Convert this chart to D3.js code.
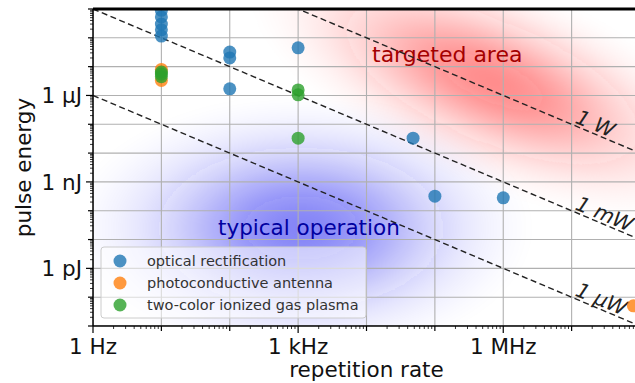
<!DOCTYPE html>
<html>
<head>
<meta charset="utf-8">
<script src="https://cdn.jsdelivr.net/npm/d3@7"></script>
<style>
  body { margin: 0; background: #fff; }
  svg text { font-family: "DejaVu Sans", sans-serif; }
</style>
</head>
<body>
<div id="chart-container"></div>
<script>
// data (frequency in Hz, energy in J)

const seriesNames = ["optical rectification", "photoconductive antenna", "two-color ionized gas plasma"];
const seriesColors = ["#1f77b4", "#ff7f0e", "#2ca02c"];

const opticalFreq = [10, 10, 10, 10, 10, 100, 100, 100, 1000, 4.8e4, 1e5, 1e6];
const opticalEnergy = [9e-4, 5.3e-4, 3e-4, 1.9e-4, 1.15e-4, 3.2e-5, 2e-5, 1.7e-6, 4.5e-5, 3.3e-8, 3.2e-10, 2.8e-10];

const antennaFreq = [10, 10, 8e7];
const antennaEnergy = [8e-6, 3.3e-6, 5e-14];

const plasmaFreq = [10, 10, 10, 1000, 1000, 1000];
const plasmaEnergy = [6.5e-6, 5.5e-6, 4.5e-6, 1.55e-6, 1.05e-6, 3.3e-8];

const powers = [1, 1e-3, 1e-6];
const powerLabels = ["1 W", "1 mW", "1 μW"];

const xTickValues = [1, 1e3, 1e6];
const xTickLabels = ["1 Hz", "1 kHz", "1 MHz"];
const yTickValues = [1e-6, 1e-9, 1e-12];
const yTickLabels = ["1 μJ", "1 nJ", "1 pJ"];

// shaded regions: centre (Hz, J) and half-widths in decades
const regionNames = ["targeted area", "typical operation"];
const regionCenterFreq = [7e5, 1.1e3];
const regionCenterEnergy = [3e-6, 2.5e-11];
const regionSpreadX = [3.8, 3.4];
const regionSpreadY = [3.5, 4.6];

// set the dimensions and margins

const W = 635, H = 383;
const margin = { top: 9, right: -5, bottom: 57, left: 93 };
const width = W - margin.left - margin.right;
const height = H - margin.top - margin.bottom;

const x = d3.scaleLog().domain([1, 1e8]).range([0, width]);
const y = d3.scaleLog().domain([1e-14, 1e-3]).range([height, 0]);

const svg = d3.select("#chart-container")
  .append("svg")
    .attr("width", W)
    .attr("height", H);

const defs = svg.append("defs");
defs.append("clipPath").attr("id", "plot-clip")
  .append("rect").attr("width", width).attr("height", height);

// gaussian-like fall-off
const gradColors = ["255,30,30", "30,30,240"];
const gradPeak = [0.52, 0.55];
gradColors.forEach((c, i) => {
  const g = defs.append("radialGradient").attr("id", "blob" + i);
  d3.range(0, 1.0001, 0.1).forEach(o => {
    const a = (Math.exp(-3.2 * o * o) - Math.exp(-3.2)) / (1 - Math.exp(-3.2));
    g.append("stop").attr("offset", o)
      .attr("stop-color", `rgba(${c},${(a * gradPeak[i]).toFixed(3)})`);
  });
});
defs.append("filter").attr("id", "soft")
  .attr("x", "-20%").attr("y", "-20%").attr("width", "140%").attr("height", "140%")
  .append("feGaussianBlur").attr("stdDeviation", 4);

const g = svg.append("g")
  .attr("transform", `translate(${margin.left},${margin.top})`);

const plot = g.append("g").attr("clip-path", "url(#plot-clip)");

// slope of a constant power line, in screen degrees
const decX = x(10) - x(1);
const decY = y(1e-6) - y(1e-5);
const angle = Math.atan2(decY, decX) * 180 / Math.PI;

// shaded regions
const blobAngle = [angle, 0];
regionNames.forEach((name, i) => {
  const cx = x(regionCenterFreq[i]), cy = y(regionCenterEnergy[i]);
  plot.append("ellipse")
    .attr("cx", cx).attr("cy", cy)
    .attr("rx", regionSpreadX[i] * decX)
    .attr("ry", regionSpreadY[i] * decY)
    .attr("transform", `rotate(${blobAngle[i]},${cx},${cy})`)
    .attr("fill", `url(#blob${i})`)
    .attr("filter", "url(#soft)");
});

// grid

const decades = d3.range(0, 9).map(k => Math.pow(10, k));
const eDecades = d3.range(-14, -2).map(k => Math.pow(10, k));

plot.append("g").selectAll("line").data(decades).join("line")
  .attr("x1", d => x(d)).attr("x2", d => x(d))
  .attr("y1", 0).attr("y2", height)
  .attr("stroke", "#b0b0b0").attr("stroke-width", 1.1);
plot.append("g").selectAll("line").data(eDecades).join("line")
  .attr("x1", 0).attr("x2", width)
  .attr("y1", d => y(d)).attr("y2", d => y(d))
  .attr("stroke", "#b0b0b0").attr("stroke-width", 1.1);

// region labels
plot.append("text")
  .attr("x", 279).attr("y", 53)
  .attr("font-size", 22).attr("fill", "#a40000")
  .text(regionNames[0]);
plot.append("text")
  .attr("x", 125).attr("y", 226)
  .attr("font-size", 21.5).attr("fill", "#0000a0")
  .text(regionNames[1]);

// constant power lines
const line = d3.line().x(d => x(d[0])).y(d => y(d[1]));
powers.forEach((p, i) => {
  plot.append("path")
    .datum([1, 1e8].map(f => [f, p / f]))
    .attr("fill", "none")
    .attr("stroke", "#222")
    .attr("stroke-width", 1.4)
    .attr("stroke-dasharray", "6,3.5")
    .attr("d", line);
  const fx = Math.pow(10, 7.04);
  const px = x(fx), py = y(p / fx) - 3;
  plot.append("text")
    .attr("transform", `translate(${px},${py}) rotate(${angle})`)
    .attr("font-size", 20.5).attr("font-style", "italic").attr("fill", "#222")
    .text(powerLabels[i]);
});

// points
const series = [
  d3.zip(opticalFreq, opticalEnergy),
  d3.zip(antennaFreq, antennaEnergy),
  d3.zip(plasmaFreq, plasmaEnergy)
];
series.forEach((pts, i) => {
  plot.append("g").selectAll("circle").data(pts).join("circle")
    .attr("cx", d => x(d[0])).attr("cy", d => y(d[1]))
    .attr("r", 6.5)
    .attr("fill", seriesColors[i])
    .attr("fill-opacity", 0.8);
});

// ticks (log minor ticks)
const minorX = [];
decades.slice(0, 8).forEach(d => d3.range(2, 10).forEach(m => minorX.push(d * m)));
const minorY = [];
eDecades.slice(0, 11).forEach(d => d3.range(2, 10).forEach(m => minorY.push(d * m)));

const axX = g.append("g").attr("transform", `translate(0,${height})`);
axX.selectAll(".mn").data(minorX.filter(v => x(v) < W)).join("line")
  .attr("x1", d => x(d)).attr("x2", d => x(d)).attr("y1", 0).attr("y2", 3)
  .attr("stroke", "#000").attr("stroke-width", 0.8);
axX.selectAll(".dc").data(decades).join("line")
  .attr("x1", d => x(d)).attr("x2", d => x(d)).attr("y1", 0)
  .attr("y2", d => xTickValues.includes(d) ? 7 : 5)
  .attr("stroke", "#000").attr("stroke-width", 1.2);
axX.selectAll("text").data(xTickValues).join("text")
  .attr("x", d => x(d)).attr("y", 27.5)
  .attr("text-anchor", "middle").attr("font-size", 21.5).attr("fill", "#111")
  .text((d, i) => xTickLabels[i]);

const axY = g.append("g");
axY.selectAll(".mn").data(minorY).join("line")
  .attr("x1", 0).attr("x2", -3).attr("y1", d => y(d)).attr("y2", d => y(d))
  .attr("stroke", "#000").attr("stroke-width", 0.8);
axY.selectAll(".dc").data(eDecades).join("line")
  .attr("x1", 0).attr("y1", d => y(d)).attr("y2", d => y(d))
  .attr("x2", d => yTickValues.includes(d) ? -7 : -5)
  .attr("stroke", "#000").attr("stroke-width", 1.2);
axY.selectAll("text").data(yTickValues).join("text")
  .attr("x", -11).attr("y", d => y(d)).attr("dy", "0.36em")
  .attr("text-anchor", "end").attr("font-size", 21.5).attr("fill", "#111")
  .text((d, i) => yTickLabels[i]);

// spines
g.append("line").attr("x1", 0).attr("x2", 0).attr("y1", 0).attr("y2", height)
  .attr("stroke", "#000").attr("stroke-width", 1.5);
g.append("line").attr("x1", 0).attr("x2", width).attr("y1", height).attr("y2", height)
  .attr("stroke", "#000").attr("stroke-width", 1.5);
g.append("line").attr("x1", 0).attr("x2", width).attr("y1", 0).attr("y2", 0)
  .attr("stroke", "#000").attr("stroke-width", 3);

// axis labels
svg.append("text")
  .attr("x", margin.left + width / 2).attr("y", 377)
  .attr("text-anchor", "middle").attr("font-size", 21.5).attr("fill", "#111")
  .text("repetition rate");
svg.append("text")
  .attr("transform", `translate(31,${margin.top + height / 2}) rotate(-90)`)
  .attr("text-anchor", "middle").attr("font-size", 21.5).attr("fill", "#111")
  .text("pulse energy");

// legend
const lg = svg.append("g").attr("transform", "translate(101,247)");
lg.append("rect")
  .attr("width", 265).attr("height", 71).attr("rx", 3)
  .attr("fill", "#fff").attr("fill-opacity", 0.55)
  .attr("stroke", "#ccc").attr("stroke-width", 1);
seriesNames.forEach((name, i) => {
  const row = lg.append("g").attr("transform", `translate(0,${14 + i * 22})`);
  row.append("circle").attr("cx", 19).attr("cy", 0).attr("r", 6.5)
    .attr("fill", seriesColors[i]).attr("fill-opacity", 0.8);
  row.append("text").attr("x", 46).attr("y", 0).attr("dy", "0.35em")
    .attr("font-size", 14.5).attr("fill", "#333").text(name);
});
</script>
</body>
</html>
